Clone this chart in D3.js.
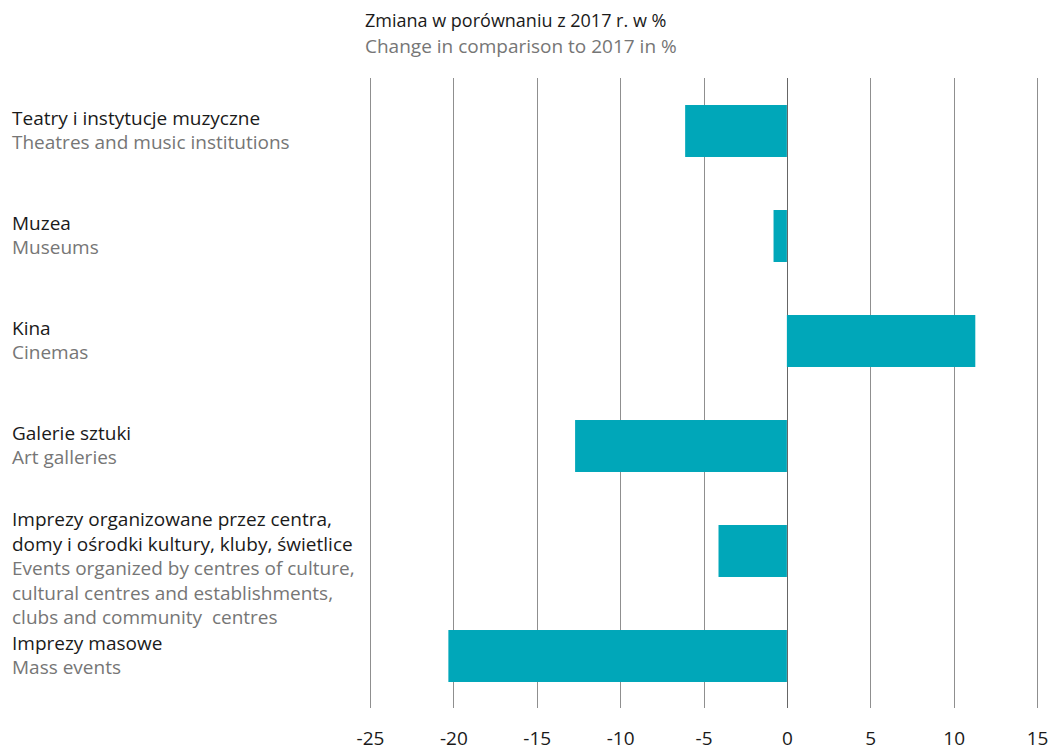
<!DOCTYPE html>
<html>
<head>
<meta charset="utf-8">
<script src="https://cdn.jsdelivr.net/npm/d3@7"></script>
<style>
  html, body { margin: 0; padding: 0; background: #fff; }
  svg { display: block; font-family: "Open Sans", "Noto Sans", sans-serif; }
  text { white-space: pre; }
</style>
</head>
<body>
<svg id="chart" width="1049" height="750"></svg>
<script>
// Categories: Polish label lines and English label lines
const categoriesPl = [
  ["Teatry i instytucje muzyczne"],
  ["Muzea"],
  ["Kina"],
  ["Galerie sztuki"],
  ["Imprezy organizowane przez centra,", "domy i ośrodki kultury, kluby, świetlice"],
  ["Imprezy masowe"]
];
const categoriesEn = [
  ["Theatres and music institutions"],
  ["Museums"],
  ["Cinemas"],
  ["Art galleries"],
  ["Events organized by centres of culture,", "cultural centres and establishments,", "clubs and community  centres"],
  ["Mass events"]
];
// Change versus 2017, %
const values = [-6.1, -0.8, 11.3, -12.7, -4.1, -20.3];
const tickValues = [-25, -20, -15, -10, -5, 0, 5, 10, 15];
const titlePl = "Zmiana w porównaniu z 2017 r. w %";
const titleEn = "Change in comparison to 2017 in %";

const svg = d3.select("#chart");
const barColor = "#00a7b9";
const darkText = "#1a1a1a";
const greyText = "#767676";

const x = d3.scaleLinear().domain([-25, 15]).range([370, 1037]);
const idx = d3.range(values.length);
const y = d3.scaleBand().domain(idx).range([78.5, 708.5]).paddingInner(0.505).paddingOuter(0.2525);

// Vertical gridlines
svg.append("g")
  .selectAll("line")
  .data(tickValues)
  .join("line")
  .attr("x1", d => Math.round(x(d)) + 0.5)
  .attr("x2", d => Math.round(x(d)) + 0.5)
  .attr("y1", 78)
  .attr("y2", 708)
  .attr("stroke", d => d === 0 ? "#666" : "#8f8f8f")
  .attr("stroke-width", 1);

// Bars
svg.append("g")
  .selectAll("rect")
  .data(idx)
  .join("rect")
  .attr("x", i => x(Math.min(0, values[i])))
  .attr("width", i => Math.abs(x(values[i]) - x(0)))
  .attr("y", i => y(i))
  .attr("height", y.bandwidth())
  .attr("fill", barColor);

// Bottom axis labels
const axis = d3.axisBottom(x).tickValues(tickValues).tickSize(0).tickPadding(0)
  .tickFormat(d => d < 0 ? "-" + Math.abs(d) : String(d));
const ax = svg.append("g").call(axis);
ax.select(".domain").remove();
ax.selectAll("text")
  .attr("font-size", 19)
  .attr("font-family", "'Open Sans', sans-serif")
  .attr("fill", darkText)
  .attr("y", 744.5)
  .attr("dy", null);

// Category labels
const lh = 24.5;
const labels = svg.append("g").attr("font-size", 19);
idx.forEach(i => {
  const lines = categoriesPl[i].map(t => ({t, c: darkText}))
    .concat(categoriesEn[i].map(t => ({t, c: greyText})));
  const n = lines.length;
  const center = y(i) + y.bandwidth() / 2;
  let first = center - (n - 1) * lh / 2 + 6;
  if (n > 2) first += 18;
  lines.forEach((l, k) => {
    labels.append("text")
      .attr("x", 12)
      .attr("y", first + k * lh)
      .attr("fill", l.c)
      .attr("xml:space", "preserve")
      .text(l.t);
  });
});

// Axis title
svg.append("text").attr("x", 365).attr("y", 27).attr("font-size", 18)
  .attr("fill", darkText).text(titlePl);
svg.append("text").attr("x", 365).attr("y", 53).attr("font-size", 19)
  .attr("fill", greyText).text(titleEn);
</script>
</body>
</html>
